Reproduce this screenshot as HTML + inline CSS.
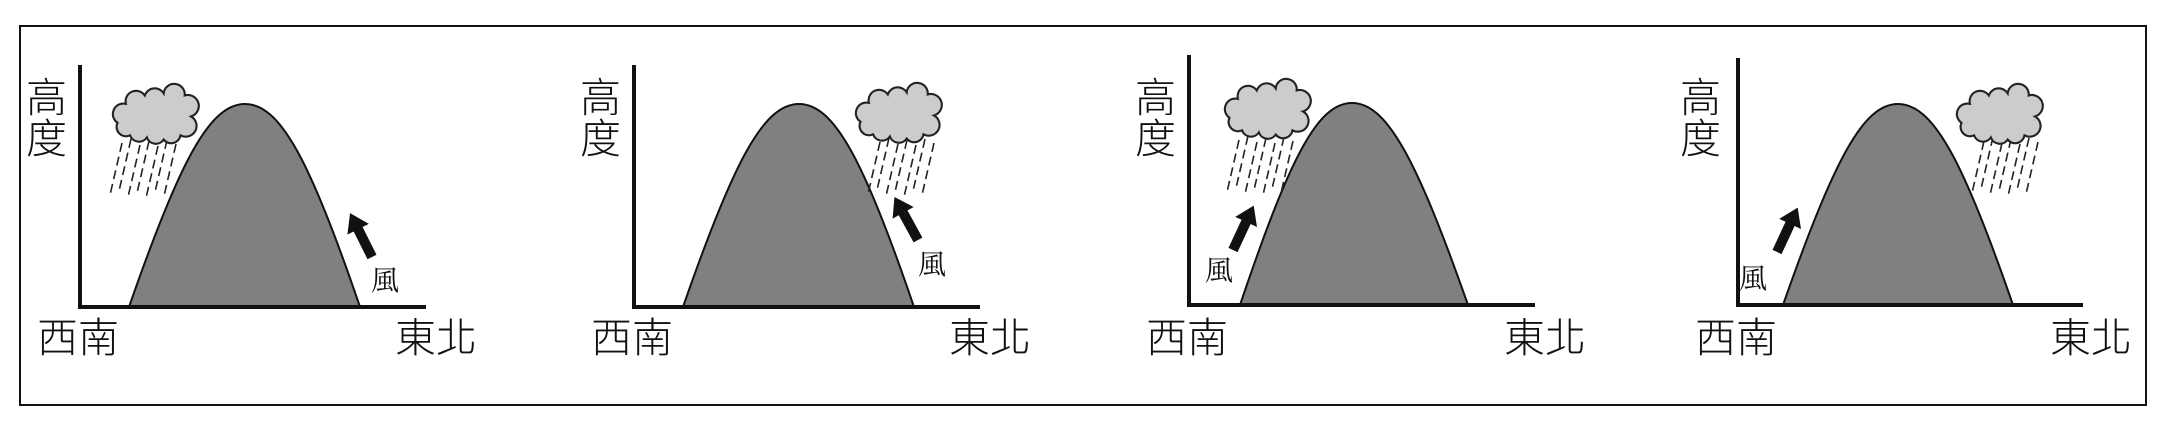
<!DOCTYPE html>
<html><head><meta charset="utf-8"><style>
html,body{margin:0;padding:0;background:#fff;}
svg{display:block}
.lab{font-family:"Noto Sans CJK TC","Noto Sans CJK JP",sans-serif;font-weight:300;font-size:41px;fill:#111}
.wind{font-family:"Liberation Serif","Noto Serif CJK SC",serif;font-size:28px;fill:#111}
.mt{fill:#808080;stroke:#111;stroke-width:2}
.cl{fill:#cccccc;stroke:#222;stroke-width:2}
.rain{stroke:#222;stroke-width:1.6;stroke-dasharray:9 5}
</style></head><body>
<svg width="2161" height="421" viewBox="0 0 2161 421" xmlns="http://www.w3.org/2000/svg">
<defs>
<path id="cloud" d="M10,35 a10,10 0 0 1 8,-18 a10,10 0 0 1 18,-8 a10,10 0 0 1 18,-2 a10,10 0 0 1 20,2 a10,10 0 0 1 6,20 a10,10 0 0 1 -10,18 a9,9 0 0 1 -16,4 a9,9 0 0 1 -16,-2 a9,9 0 0 1 -16,-2 a9,9 0 0 1 -12,-12 Z"/>
<g id="rain">
<line class="rain" x1="10" y1="0" x2="-2" y2="52"/>
<line class="rain" x1="19" y1="-4" x2="7" y2="48"/>
<line class="rain" x1="28" y1="2" x2="16" y2="54"/>
<line class="rain" x1="37" y1="-2" x2="25" y2="50"/>
<line class="rain" x1="46" y1="3" x2="34" y2="55"/>
<line class="rain" x1="55" y1="-3" x2="43" y2="49"/>
<line class="rain" x1="64" y1="1" x2="52" y2="53"/>
</g>
<polygon id="arrow" points="-5,0 5,0 5,-31 12,-31 0,-49 -12,-31 -5,-31" fill="#111"/>
</defs>
<rect x="20" y="26" width="2126" height="379" fill="none" stroke="#111" stroke-width="2"/>

<g transform="translate(80,0)">
<path class="mt" d="M49 307 C100 160,130 104,165 104 C200 104,230 160,280 307 Z"/>
<polyline points="0,65 0,307 346,307" fill="none" stroke="#111" stroke-width="4"/>
<text class="lab" x="-54" y="112">高</text><text class="lab" x="-54" y="153">度</text>
<text class="lab" x="-43" y="352">西南</text><text class="lab" x="315" y="352">東北</text>
<g transform="translate(32,143)"><use href="#rain"/></g>
<use href="#cloud" transform="translate(27,86) scale(1.05)" class="cl"/>
<use href="#arrow" transform="translate(292,257) rotate(-26.6)"/>
<text class="wind" x="291" y="290">風</text>
</g>

<g transform="translate(634,0)">
<path class="mt" d="M49 307 C100 160,130 104,165 104 C200 104,230 160,280 307 Z"/>
<polyline points="0,65 0,307 346,307" fill="none" stroke="#111" stroke-width="4"/>
<text class="lab" x="-54" y="112">高</text><text class="lab" x="-54" y="153">度</text>
<text class="lab" x="-43" y="352">西南</text><text class="lab" x="315" y="352">東北</text>
<g transform="translate(236,142)"><use href="#rain"/></g>
<use href="#cloud" transform="translate(216,85) scale(1.05)" class="cl"/>
<use href="#arrow" transform="translate(284,240) rotate(-28.7)"/>
<text class="wind" x="284" y="274">風</text>
</g>

<g transform="translate(1189,0)">
<path class="mt" d="M51 305 C100 160,128 103,163 103 C198 103,228 160,279 305 Z"/>
<polyline points="0,55 0,305 346,305" fill="none" stroke="#111" stroke-width="4"/>
<text class="lab" x="-54" y="112">高</text><text class="lab" x="-54" y="153">度</text>
<text class="lab" x="-43" y="352">西南</text><text class="lab" x="315" y="352">東北</text>
<g transform="translate(40,140)"><use href="#rain"/></g>
<use href="#cloud" transform="translate(30,81) scale(1.05)" class="cl"/>
<use href="#arrow" transform="translate(44,250) rotate(25)"/>
<text class="wind" x="16" y="280">風</text>
</g>

<g transform="translate(1738,0)">
<path class="mt" d="M45 305 C96 160,125 104,160 104 C195 104,225 160,275 305 Z"/>
<polyline points="0,58 0,305 345,305" fill="none" stroke="#111" stroke-width="4"/>
<text class="lab" x="-58" y="112">高</text><text class="lab" x="-58" y="153">度</text>
<text class="lab" x="-43" y="352">西南</text><text class="lab" x="312" y="352">東北</text>
<g transform="translate(236,141)"><use href="#rain"/></g>
<use href="#cloud" transform="translate(213,86) scale(1.05)" class="cl"/>
<use href="#arrow" transform="translate(39,252) rotate(25)"/>
<text class="wind" x="1" y="288">風</text>
</g>
</svg>
</body></html>
